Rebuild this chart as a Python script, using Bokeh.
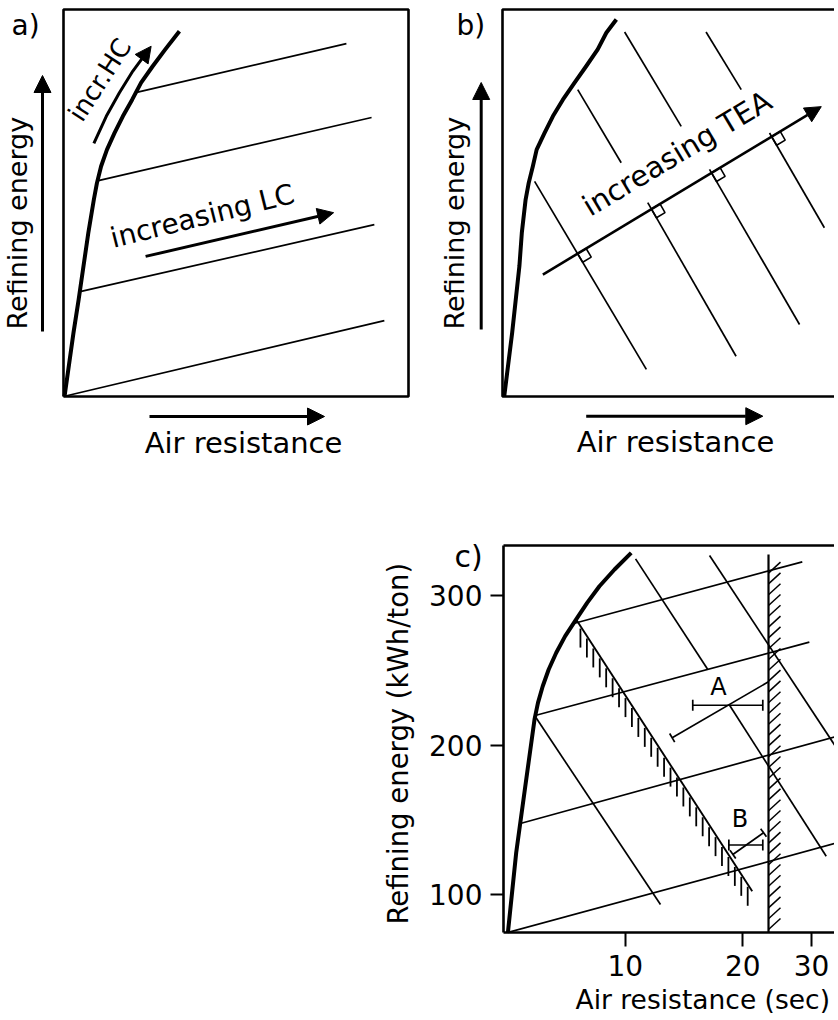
import numpy as np
from bokeh.plotting import figure
from bokeh.layouts import column, row
from bokeh.models import (Range1d, Arrow, NormalHead, FixedTicker,
                          Whisker, TeeHead, ColumnDataSource, BasicTickFormatter)
from bokeh.core.properties import value
from bokeh.embed import file_html
from bokeh.resources import INLINE

FONT = "DejaVu Sans"

# ---------------- data: panel a (schematic units, box 0..10) ----------------
a_curve_x = [0.03, 0.29, 0.44, 0.58, 0.72, 0.88, 0.97, 1.09, 1.26, 1.48, 1.72, 1.99, 2.25, 2.59, 2.95, 3.36]
a_curve_y = [0.00, 1.65, 2.51, 3.37, 4.23, 5.09, 5.52, 5.95, 6.38, 6.81, 7.24, 7.67, 8.11, 8.54, 8.97, 9.44]
a_lc_x0 = [0.00, 0.48, 1.01, 2.12]
a_lc_y0 = [0.00, 2.71, 5.58, 7.86]
a_lc_x1 = [9.30, 9.01, 8.93, 8.20]
a_lc_y1 = [1.96, 4.44, 7.21, 9.12]
a_hc_x = [0.88, 1.24, 1.62, 2.01, 2.40, 2.54]
a_hc_y = [6.54, 7.24, 7.85, 8.41, 8.88, 9.05]
a_lc_arrow_x = [2.38, 7.83]
a_lc_arrow_y = [3.62, 4.75]

# ---------------- data: panel b ----------------
b_curve_x = [0.05, 0.28, 0.49, 0.56, 0.67, 0.76, 0.88, 0.99, 1.22, 1.46, 1.75, 2.09, 2.43, 2.76, 3.01, 3.30]
b_curve_y = [0.00, 1.65, 3.37, 4.23, 5.09, 5.52, 5.95, 6.38, 6.81, 7.24, 7.67, 8.11, 8.54, 8.97, 9.40, 9.74]
b_tea_low_x0 = [0.93, 4.21, 6.00, 7.74]
b_tea_low_y0 = [5.56, 5.01, 5.87, 6.81]
b_tea_low_x1 = [4.17, 6.77, 8.61, 9.33]
b_tea_low_y1 = [0.70, 1.04, 1.86, 4.36]
b_tea_up_x0 = [2.18, 3.54, 5.90]
b_tea_up_y0 = [7.93, 9.42, 9.42]
b_tea_up_x1 = [3.44, 5.18, 6.92]
b_tea_up_y1 = [6.04, 6.98, 7.93]
b_tea_arrow_x = [1.17, 9.24]
b_tea_arrow_y = [3.15, 7.49]

# ---------------- data: panel c (air resistance s, kWh/ton) ----------------
c_curve_x = [5.01, 5.26, 5.55, 5.86, 5.98, 6.15, 6.37, 6.66, 7.02, 7.49, 7.99, 8.59, 9.39, 10.36]
c_curve_y = [74.6, 127.9, 172.4, 217.1, 228.2, 239.3, 250.5, 261.7, 272.8, 284.0, 295.1, 306.2, 317.4, 328.5]
c_lc_x0 = [5.01, 5.39, 5.88, 7.38]
c_lc_y0 = [74.6, 147.5, 219.7, 281.3]
c_lc_x1 = [34.95, 34.95, 29.6, 28.4]
c_lc_y1 = [134.6, 205.9, 268.8, 322.5]
c_tea_x0 = [5.92, 10.63, 18.50, 16.44]
c_tea_y0 = [218.0, 324.5, 226.6, 326.8]
c_tea_x1 = [12.31, 16.27, 32.70, 34.95]
c_tea_y1 = [93.3, 250.5, 125.6, 197.0]
c_hatch_line_x = [7.49, 21.14]
c_hatch_line_y = [284.0, 102.2]
c_limit_x = 23.27
c_limit_ytop = 327.4
pt_names = ["A", "B"]
pt_bar_y = [226.6, 133.1]
pt_bar_lo = [14.89, 18.42]
pt_bar_hi = [22.50, 22.50]
pt_diag_x0 = [13.19, 18.86]
pt_diag_y0 = [204.8, 126.8]
pt_diag_x1 = [23.27, 22.60]
pt_diag_y1 = [242.3, 141.3]
y_ticks = [100, 200, 300]
x_ticks = [10, 20, 30]

# ---------------- layout (screen pixels) ----------------
ORIGIN = 1
ROW1_H = 488
A_W, B_W = 432, 402
C_W, C_H = 834, 526
BOX_TOP, BOX_BOTTOM = 10, 397
A_BOX_LEFT, B_BOX_LEFT = 64, 503
UNITS = 10.0
SX = 345 / UNITS
SY = (BOX_BOTTOM - BOX_TOP) / UNITS

# panel c calibration: pixel of x=10, pixels per decade, pixel of y=300, pixels per unit
C_X10, C_PPD = 625.7, 390.7
C_Y300, C_PPU = 596.0, 1.495
C_BOX_LEFT, C_BOX_TOP, C_BOX_BOTTOM = 504, 546, 933


def c_x(px):
    return 10 ** (1 + (np.asarray(px, dtype=float) - C_X10) / C_PPD)


def c_y(py):
    return 300 - (np.asarray(py, dtype=float) - C_Y300) / C_PPU


def c_px(x):
    return C_X10 + C_PPD * (np.log10(x) - 1)


def c_py(y):
    return C_Y300 + (300 - np.asarray(y, dtype=float)) * C_PPU


def ab_figure(fig_left, fig_w, box_left):
    xr = Range1d((fig_left - box_left) / SX, (fig_left + fig_w - box_left) / SX)
    yr = Range1d((BOX_BOTTOM - (ORIGIN + ROW1_H)) / SY, (BOX_BOTTOM - ORIGIN) / SY)
    p = figure(width=fig_w, height=ROW1_H, x_range=xr, y_range=yr,
               x_axis_location=None, y_axis_location=None, min_border=0,
               toolbar_location=None, output_backend="svg")
    p.grid.visible = False
    p.outline_line_color = None
    p.background_fill_color = "white"
    p.border_fill_color = "white"
    return p


def place(px, py, fs, ang):
    # convert a desired baseline point into the anchor of a "middle"-baseline text
    th = np.radians(ang)
    return px - 0.36 * fs * np.sin(th), py - 0.36 * fs * np.cos(th)


def ab_text(p, box_left, px, py, s, fs, ang=0.0, align="left"):
    ax, ay = place(px, py, fs, ang)
    p.text(x=[(ax - box_left) / SX], y=[(BOX_BOTTOM - ay) / SY], text=[s],
           angle=ang, angle_units="deg", text_font=value(FONT), text_font_size=value(f"{fs}px"),
           text_align=align, text_baseline="middle", text_color="black")


def c_text(p, px, py, s, fs, ang=0.0, align="left"):
    ax, ay = place(px, py, fs, ang)
    p.text(x=[float(c_x(ax))], y=[float(c_y(ay))], text=[s],
           angle=ang, angle_units="deg", text_font=value(FONT), text_font_size=value(f"{fs}px"),
           text_align=align, text_baseline="middle", text_color="black")


def arrow(p, x0, y0, x1, y1, lw=3, size=16):
    p.add_layout(Arrow(end=NormalHead(size=size, fill_color="black", line_color="black", line_width=1),
                       x_start=x0, y_start=y0, x_end=x1, y_end=y1,
                       line_width=lw, line_color="black"))


def ab_arrow(p, box_left, px0, py0, px1, py1, lw=3, size=16):
    arrow(p, (px0 - box_left) / SX, (BOX_BOTTOM - py0) / SY,
          (px1 - box_left) / SX, (BOX_BOTTOM - py1) / SY, lw, size)


# ---------------- panel a ----------------
pa = ab_figure(ORIGIN, A_W, A_BOX_LEFT)
pa.line([0, UNITS, UNITS, 0, 0], [0, 0, UNITS, UNITS, 0], line_width=2.6, color="black")
pa.line(a_curve_x, a_curve_y, line_width=4, color="black", line_join="round")
pa.segment(a_lc_x0, a_lc_y0, a_lc_x1, a_lc_y1, line_width=1.7, color="black")
pa.line(a_hc_x[:-1], a_hc_y[:-1], line_width=3, color="black", line_join="round")
arrow(pa, a_hc_x[-2], a_hc_y[-2], a_hc_x[-1], a_hc_y[-1], lw=3, size=16)
arrow(pa, a_lc_arrow_x[0], a_lc_arrow_y[0], a_lc_arrow_x[1], a_lc_arrow_y[1], lw=3, size=16)
ab_arrow(pa, A_BOX_LEFT, 43, 332, 43, 76, size=17)
ab_arrow(pa, A_BOX_LEFT, 150, 417, 325, 417, size=17)
ab_text(pa, A_BOX_LEFT, 12, 36, "a)", 28)
ab_text(pa, A_BOX_LEFT, 28, 330, "Refining energy", 27, ang=90)
ab_text(pa, A_BOX_LEFT, 244, 454, "Air resistance", 29, align="center")
ab_text(pa, A_BOX_LEFT, 114, 249, "increasing LC", 28, ang=14)
ab_text(pa, A_BOX_LEFT, 83, 124, "incr.HC", 26, ang=57)

# ---------------- panel b ----------------
pb = ab_figure(ORIGIN + A_W, B_W, B_BOX_LEFT)
pb.line([UNITS * 1.2, 0, 0, UNITS * 1.2], [UNITS, UNITS, 0, 0], line_width=2.6, color="black")
pb.line(b_curve_x, b_curve_y, line_width=4, color="black", line_join="round")
pb.segment(b_tea_low_x0, b_tea_low_y0, b_tea_low_x1, b_tea_low_y1, line_width=1.7, color="black")
pb.segment(b_tea_up_x0, b_tea_up_y0, b_tea_up_x1, b_tea_up_y1, line_width=1.7, color="black")
arrow(pb, b_tea_arrow_x[0], b_tea_arrow_y[0], b_tea_arrow_x[1], b_tea_arrow_y[1], lw=2.6, size=16)
ab_arrow(pb, B_BOX_LEFT, 481.7, 330, 481.7, 83, size=17)
ab_arrow(pb, B_BOX_LEFT, 586.7, 416.7, 763.3, 416.7, size=17)

# right-angle markers where each TEA line crosses the arrow (screen space)
A0 = np.array([b_tea_arrow_x[0] * SX, -b_tea_arrow_y[0] * SY])
A1 = np.array([b_tea_arrow_x[1] * SX, -b_tea_arrow_y[1] * SY])
u = (A1 - A0) / np.linalg.norm(A1 - A0)
sq_xs, sq_ys = [], []
for x0, y0, x1, y1 in zip(b_tea_low_x0, b_tea_low_y0, b_tea_low_x1, b_tea_low_y1):
    P0 = np.array([x0 * SX, -y0 * SY])
    P1 = np.array([x1 * SX, -y1 * SY])
    d = P1 - P0
    t, s = np.linalg.solve(np.array([u, -d]).T, P0 - A0)
    I = A0 + t * u
    v = d / np.linalg.norm(d)
    side = 10.0
    corners = [I, I + side * u, I + side * (u + v), I + side * v, I]
    sq_xs.append([c[0] / SX for c in corners])
    sq_ys.append([-c[1] / SY for c in corners])
pb.multi_line(sq_xs, sq_ys, line_width=1.6, color="black")
ab_text(pb, B_BOX_LEFT, 457, 36, "b)", 28)
ab_text(pb, B_BOX_LEFT, 465, 330, "Refining energy", 27, ang=90)
ab_text(pb, B_BOX_LEFT, 676, 453, "Air resistance", 29, align="center")
ab_text(pb, B_BOX_LEFT, 591, 218, "increasing TEA", 29, ang=31)

# ---------------- panel c ----------------
c_top_px = ORIGIN + ROW1_H
pc = figure(width=C_W, height=C_H, x_axis_type="log",
            x_range=Range1d(float(c_x(ORIGIN)), float(c_x(ORIGIN + C_W))),
            y_range=Range1d(float(c_y(c_top_px + C_H)), float(c_y(c_top_px))),
            min_border=0, toolbar_location=None, output_backend="svg")
pc.grid.visible = False
pc.outline_line_color = None
pc.background_fill_color = "white"
pc.border_fill_color = "white"

XB0 = float(c_x(C_BOX_LEFT))
XB1 = float(c_x(ORIGIN + C_W))
YB0 = float(c_y(C_BOX_BOTTOM))
YB1 = float(c_y(C_BOX_TOP))

for ax in (pc.xaxis[0], pc.yaxis[0]):
    ax.axis_line_width = 2.6
    ax.axis_line_color = "black"
    ax.major_tick_line_width = 2
    ax.major_tick_line_color = "black"
    ax.major_tick_in = 0
    ax.minor_tick_line_color = None
    ax.major_label_text_font = FONT
    ax.major_label_text_font_size = "28px"
    ax.major_label_text_color = "black"
    ax.major_label_standoff = 8
pc.xaxis.ticker = FixedTicker(ticks=x_ticks)
pc.xaxis.formatter = BasicTickFormatter()
pc.xaxis.major_tick_out = 14
pc.xaxis.fixed_location = YB0
pc.xaxis.bounds = (XB0, XB1)
pc.yaxis.ticker = FixedTicker(ticks=y_ticks)
pc.yaxis.major_tick_out = 13
pc.yaxis.fixed_location = XB0
pc.yaxis.bounds = (YB0, YB1)

pc.segment([XB0], [YB1], [XB1], [YB1], line_width=2.6, color="black")
pc.line(c_curve_x, c_curve_y, line_width=4, color="black", line_join="round")
pc.segment(c_lc_x0, c_lc_y0, c_lc_x1, c_lc_y1, line_width=1.7, color="black")
pc.segment(c_tea_x0, c_tea_y0, c_tea_x1, c_tea_y1, line_width=1.7, color="black")
pc.line(c_hatch_line_x, c_hatch_line_y, line_width=1.9, color="black")
pc.segment([c_limit_x], [YB0], [c_limit_x], [c_limit_ytop], line_width=2.2, color="black")

# hatching along the diagonal limit (lower-left side), built in screen space
P0 = np.array([c_px(c_hatch_line_x[0]), c_py(c_hatch_line_y[0])])
P1 = np.array([c_px(c_hatch_line_x[1]), c_py(c_hatch_line_y[1])])
ts = np.linspace(0.03, 0.98, 27)
hs = np.array([P0 + t * (P1 - P0) for t in ts])
pc.segment(c_x(hs[:, 0] - 1), c_y(hs[:, 1] + 1), c_x(hs[:, 0] - 1), c_y(hs[:, 1] + 20),
           line_width=1.8, color="black")

# hatching right of the vertical limit
vsx = c_px(c_limit_x)
vys = np.arange(c_py(YB0) - 3, c_py(c_limit_ytop) + 10, -10.8)
pc.segment(c_x(np.full(len(vys), vsx)), c_y(vys), c_x(np.full(len(vys), vsx + 12)), c_y(vys - 11),
           line_width=1.5, color="black")

# points A and B
pc.add_layout(Whisker(source=ColumnDataSource(dict(base=pt_bar_y, lower=pt_bar_lo, upper=pt_bar_hi)),
                      base="base", lower="lower", upper="upper", dimension="width",
                      line_width=1.7, line_color="black",
                      upper_head=TeeHead(size=11, line_width=1.7, line_color="black"),
                      lower_head=TeeHead(size=11, line_width=1.7, line_color="black")))
pc.segment(pt_diag_x0, pt_diag_y0, pt_diag_x1, pt_diag_y1, line_width=1.7, color="black")
cx0, cy0, cx1, cy1 = [], [], [], []
for i, (x0, y0, x1, y1) in enumerate(zip(pt_diag_x0, pt_diag_y0, pt_diag_x1, pt_diag_y1)):
    S0 = np.array([c_px(x0), c_py(y0)])
    S1 = np.array([c_px(x1), c_py(y1)])
    d = (S1 - S0) / np.linalg.norm(S1 - S0)
    n = np.array([-d[1], d[0]])
    for E in ([S0] if i == 0 else [S0, S1]):
        a, b = E - 5 * n, E + 5 * n
        cx0.append(float(c_x(a[0]))); cy0.append(float(c_y(a[1])))
        cx1.append(float(c_x(b[0]))); cy1.append(float(c_y(b[1])))
pc.segment(cx0, cy0, cx1, cy1, line_width=1.7, color="black")

c_text(pc, 719, 696, pt_names[0], 24, align="center")
c_text(pc, 740.5, 828, pt_names[1], 24, align="center")
c_text(pc, 455, 568, "c)", 30)
c_text(pc, 408, 925, "Refining energy (kWh/ton)", 27.5, ang=90)
c_text(pc, 576, 1010, "Air resistance (sec)", 26.5)

layout = column(row(pa, pb), pc)
open("out.html", "w").write(file_html(layout, INLINE))
